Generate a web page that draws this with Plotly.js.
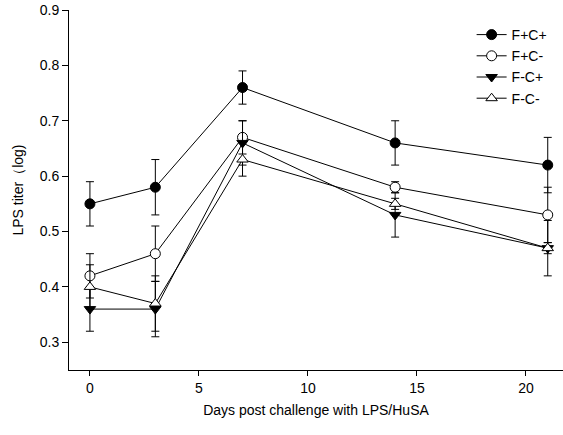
<!DOCTYPE html>
<html><head><meta charset="utf-8">
<script src="https://cdn.plot.ly/plotly-3.0.1.min.js"></script>
<style>body{margin:0;padding:0;background:#fff}#chart{width:563px;height:435px}</style>
</head><body><div id="chart"></div>
<script>
const days = [0, 3, 7, 14, 21];
const seriesNames = ["F+C+", "F+C-", "F-C+", "F-C-"];
const fcPos = [0.55, 0.58, 0.76, 0.66, 0.62];
const fcPosErr = [0.04, 0.05, 0.03, 0.04, 0.05];
const fPosCNeg = [0.42, 0.46, 0.67, 0.58, 0.53];
const fPosCNegErr = [0.04, 0.05, 0.03, 0.01, 0.05];
const fNegCPos = [0.36, 0.36, 0.66, 0.53, 0.47];
const fNegCPosErr = [0.04, 0.05, 0.04, 0.04, 0.05];
const fcNeg = [0.40, 0.37, 0.63, 0.55, 0.47];
const fcNegErr = [0.04, 0.05, 0.03, 0.01, 0.01];
const yTicks = [0.3, 0.4, 0.5, 0.6, 0.7, 0.8, 0.9];
const xTicks = [0, 5, 10, 15, 20];

const styles = [
  {symbol: 'circle', fill: '#000'},
  {symbol: 'circle', fill: '#fff'},
  {symbol: 'triangle-down', fill: '#000'},
  {symbol: 'triangle-up', fill: '#fff'}
];
const vals = [fcPos, fPosCNeg, fNegCPos, fcNeg];
const errs = [fcPosErr, fPosCNegErr, fNegCPosErr, fcNegErr];

const traces = vals.map((v, i) => ({
  x: days, y: v, name: seriesNames[i], type: 'scatter', mode: 'lines+markers',
  line: {color: '#000', width: 1},
  marker: {symbol: styles[i].symbol, size: 10,
           color: styles[i].fill, line: {color: '#000', width: 1}},
  error_y: {type: 'data', array: errs[i], visible: true, color: '#000', thickness: 1, width: 4},
  cliponaxis: false
}));

const font = {family: 'Liberation Sans, Arial, sans-serif', size: 14, color: '#000'};
const layout = {
  width: 563, height: 435,
  margin: {l: 69, r: 0, t: 10, b: 65},
  paper_bgcolor: '#fff', plot_bgcolor: '#fff',
  font: font,
  showlegend: true,
  legend: {x: 0.815, y: 0.975, xanchor: 'left', yanchor: 'top', bgcolor: 'rgba(0,0,0,0)',
           font: {family: font.family, size: 14, color: '#000'}, tracegroupgap: 0},
  xaxis: {range: [-0.96, 21.7], tickvals: xTicks, ticks: 'outside', ticklen: 5, tickcolor: '#000',
          showline: true, linecolor: '#000', linewidth: 1, showgrid: false, zeroline: false,
          tickfont: font,
          title: {text: 'Days post challenge with LPS/HuSA', font: font, standoff: 10}},
  yaxis: {range: [0.25, 0.9], tickvals: yTicks, ticktext: yTicks.map(t => t.toFixed(1)),
          ticks: 'outside', ticklen: 6, tickcolor: '#000',
          showline: true, linecolor: '#000', linewidth: 1, showgrid: false, zeroline: false,
          tickfont: font,
          title: {text: 'LPS titer（log)', font: font, standoff: 12}}
};
Plotly.newPlot('chart', traces, layout, {displayModeBar: false, staticPlot: true});
</script></body></html>
